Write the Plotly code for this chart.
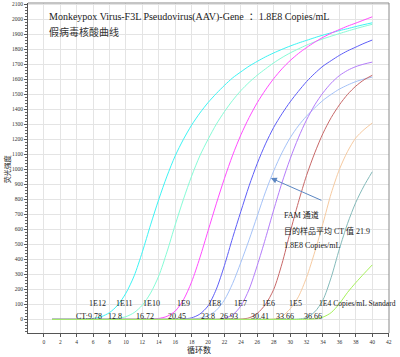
import plotly.graph_objects as go

cycles = list(range(1, 41))

v_1e12 = [0, 0, 0, 0, 2, 6, 18, 45, 95, 175, 290, 450, 630, 800, 955, 1090, 1200, 1295, 1375, 1445,
          1505, 1560, 1610, 1650, 1688, 1720, 1750, 1776, 1800, 1822, 1842, 1860, 1878, 1895, 1910, 1925, 1938, 1952, 1965, 1977]
v_1e11 = [0, 0, 0, 0, 0, 0, 0, 2, 6, 18, 45, 95, 175, 290, 450, 630, 800, 955, 1090, 1200,
          1300, 1385, 1460, 1525, 1580, 1628, 1670, 1710, 1745, 1776, 1803, 1828, 1850, 1870, 1888, 1905, 1922, 1938, 1953, 1967]
v_1e10 = [0, 0, 0, 0, 0, 0, 0, 0, 0, 0, 0, 0, 2, 6, 20, 55, 130, 250, 410, 590,
          770, 940, 1095, 1230, 1345, 1445, 1530, 1605, 1670, 1725, 1772, 1812, 1848, 1880, 1908, 1932, 1955, 1975, 1996, 2017]
v_1e9 = [0, 0, 0, 0, 0, 0, 0, 0, 0, 0, 0, 0, 0, 0, 0, 0, 3, 10, 35, 90,
         200, 360, 545, 720, 890, 1040, 1170, 1280, 1370, 1450, 1520, 1585, 1640, 1688, 1725, 1760, 1790, 1815, 1840, 1862]
v_sample = [0, 0, 0, 0, 0, 0, 0, 0, 0, 0, 0, 0, 0, 0, 0, 0, 0, 2, 8, 25,
            60, 130, 240, 380, 530, 690, 850, 990, 1110, 1210, 1290, 1355, 1410, 1460, 1500, 1535, 1562, 1585, 1602, 1615]
v_1e8 = [0, 0, 0, 0, 0, 0, 0, 0, 0, 0, 0, 0, 0, 0, 0, 0, 0, 0, 0, 0,
         0, 8, 30, 90, 200, 360, 540, 730, 910, 1070, 1210, 1330, 1430, 1510, 1575, 1625, 1660, 1685, 1702, 1715]
v_1e7 = [0, 0, 0, 0, 0, 0, 0, 0, 0, 0, 0, 0, 0, 0, 0, 0, 0, 0, 0, 0,
         0, 0, 0, 2, 10, 40, 100, 200, 370, 580, 780, 960, 1110, 1240, 1345, 1430, 1500, 1555, 1597, 1627]
v_1e6 = [0, 0, 0, 0, 0, 0, 0, 0, 0, 0, 0, 0, 0, 0, 0, 0, 0, 0, 0, 0,
         0, 0, 0, 0, 0, 0, 0, 3, 20, 70, 150, 280, 450, 640, 840, 1000, 1120, 1210, 1265, 1309]
v_1e5 = [0, 0, 0, 0, 0, 0, 0, 0, 0, 0, 0, 0, 0, 0, 0, 0, 0, 0, 0, 0,
         0, 0, 0, 0, 0, 0, 0, 0, 0, 0, 2, 12, 50, 130, 280, 470, 640, 780, 890, 984]
v_1e4 = [0, 0, 0, 0, 0, 0, 0, 0, 0, 0, 0, 0, 0, 0, 0, 0, 0, 0, 0, 0,
         0, 0, 0, 0, 0, 0, 0, 0, 0, 0, 0, 0, 3, 15, 45, 105, 180, 245, 305, 363]

series_names = ["1E12", "1E11", "1E10", "1E9", "Sample", "1E8", "1E7", "1E6", "1E5", "1E4"]
series_values = [v_1e12, v_1e11, v_1e10, v_1e9, v_sample, v_1e8, v_1e7, v_1e6, v_1e5, v_1e4]
series_colors = ["#3cf4f4", "#86fcd6", "#ff4cff", "#5e5ef8", "#a4c2f8", "#b47cfa",
                 "#c86868", "#f6caa0", "#84baba", "#a6f25a"]

conc_labels = ["1E12", "1E11", "1E10", "1E9", "1E8", "1E7", "1E6", "1E5"]
conc_x = [6.55, 9.84, 13.13, 17.04, 20.82, 23.99, 27.4, 30.7]
ct_labels = ["CT:9.78", "12.8", "16.72", "20.45", "23.8", "26.93", "30.41", "33.66", "36.66"]
ct_x = [5.45, 8.63, 12.28, 16.18, 19.96, 22.52, 26.3, 29.35, 32.77]

x_ticks = list(range(0, 43, 2))
y_ticks = list(range(0, 2101, 100))

SERIF = "Liberation Serif, Times New Roman, Noto Sans CJK SC, serif"

fig = go.Figure()
for name, vals, col in zip(series_names, series_values, series_colors):
    fig.add_trace(go.Scatter(x=cycles, y=vals, mode="lines", name=name,
                             line=dict(color=col, width=1, shape="spline", smoothing=0.8),
                             hoverinfo="skip"))

ann = []
for t, x in zip(conc_labels, conc_x):
    ann.append(dict(x=x, y=109, xref="x", yref="y", text=t, showarrow=False,
                    font=dict(family=SERIF, size=8, color="#222"), xanchor="center", yanchor="middle"))
ann.append(dict(x=33.26, y=109, xref="x", yref="y", text="1E4 Copies/mL Standard", showarrow=False,
                font=dict(family=SERIF, size=7.6, color="#222"), xanchor="left", yanchor="middle"))
for t, x in zip(ct_labels, ct_x):
    ann.append(dict(x=x, y=22, xref="x", yref="y", text=t, showarrow=False,
                    font=dict(family=SERIF, size=8, color="#222"), xanchor="center", yanchor="middle"))

ann.append(dict(x=0.33, y=2015, xref="x", yref="y",
                text="Monkeypox Virus-F3L Pseudovirus(AAV)-Gene  ：1.8E8 Copies/mL", showarrow=False,
                font=dict(family=SERIF, size=10, color="#222"), xanchor="left", yanchor="middle"))
ann.append(dict(x=0.33, y=1915, xref="x", yref="y", text="假病毒核酸曲线", showarrow=False,
                font=dict(family=SERIF, size=10, color="#333"), xanchor="left", yanchor="middle"))

ann.append(dict(x=28.99, y=695, xref="x", yref="y", text="FAM 通道", showarrow=False,
                font=dict(family=SERIF, size=8, color="#222"), xanchor="left", yanchor="middle"))
ann.append(dict(x=28.99, y=589, xref="x", yref="y", text="目的样品平均 CT 值 21.9", showarrow=False,
                font=dict(family=SERIF, size=8, color="#222"), xanchor="left", yanchor="middle"))
ann.append(dict(x=28.99, y=495, xref="x", yref="y", text="1.8E8 Copies/mL", showarrow=False,
                font=dict(family=SERIF, size=8, color="#222"), xanchor="left", yanchor="middle"))

ann.append(dict(x=27.65, y=942, xref="x", yref="y", ax=33.99, ay=789, axref="x", ayref="y",
                text="", showarrow=True, arrowhead=2, arrowsize=1.2, arrowwidth=1, arrowcolor="#5b86c2"))

ann.append(dict(x=0.474, y=-0.05, xref="paper", yref="paper", text="循环数", showarrow=False,
                font=dict(family=SERIF, size=8, color="#222"), xanchor="center", yanchor="middle"))
ann.append(dict(x=-0.055, y=0.497, xref="paper", yref="paper", text="荧光强度", showarrow=False,
                textangle=-90, font=dict(family=SERIF, size=7, color="#222"),
                xanchor="center", yanchor="middle"))

fig.update_layout(
    width=400, height=357,
    margin=dict(l=28, r=11, t=3, b=24, autoexpand=False),
    paper_bgcolor="white", plot_bgcolor="white",
    showlegend=False,
    annotations=ann,
    shapes=[
        dict(type="line", xref="paper", yref="paper", x0=0, x1=1, y0=1, y1=1,
             line=dict(color="#8a8a8a", width=1)),
        dict(type="line", xref="paper", yref="paper", x0=1, x1=1, y0=0, y1=1,
             line=dict(color="#8a8a8a", width=1)),
    ],
)
fig.update_xaxes(range=[-1.93, 42.04], tickvals=x_ticks, ticktext=[str(v) for v in x_ticks],
                 automargin=False,
                 showgrid=True, gridcolor="#e4e4e4", gridwidth=1, zeroline=False,
                 showline=True, linecolor="#555", linewidth=1, ticks="outside", ticklen=3,
                 tickcolor="#555", tickfont=dict(family=SERIF, size=5.5, color="#333"))
fig.update_yaxes(range=[-91, 2109], tickvals=y_ticks, ticktext=[str(v) for v in y_ticks],
                 automargin=False,
                 showgrid=True, gridcolor="#e4e4e4", gridwidth=1, zeroline=False,
                 showline=True, linecolor="#555", linewidth=1, ticks="outside", ticklen=3,
                 tickcolor="#555", tickfont=dict(family=SERIF, size=5.5, color="#333"),
                 minor=dict(ticks="outside", ticklen=2, dtick=20, tickcolor="#666", showgrid=False))

fig.write_html("out.html", config={"displayModeBar": False},
               post_script="document.body.style.margin='0';document.body.style.overflow='hidden';")
